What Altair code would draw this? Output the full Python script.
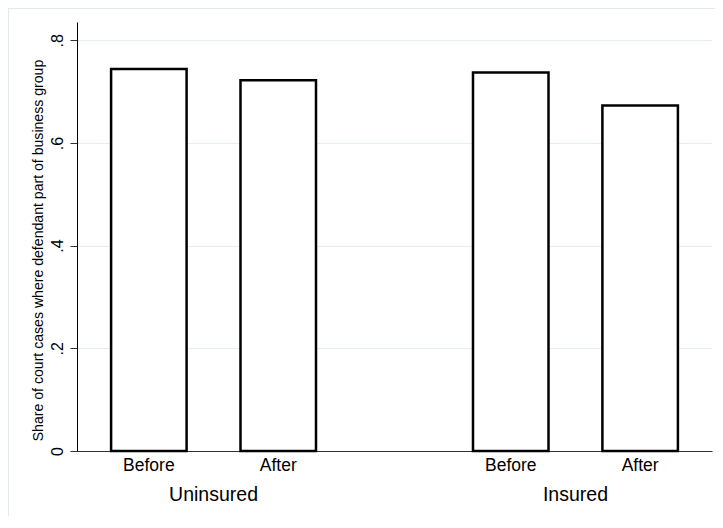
import altair as alt
import pandas as pd

groups = ["Uninsured", "Uninsured", "Insured", "Insured"]
periods = ["Before", "After", "Before", "After"]
shares = [0.744, 0.722, 0.737, 0.673]
group_order = ["Uninsured", "Insured"]
period_order = ["Before", "After"]
y_ticks = [0, 0.2, 0.4, 0.6, 0.8]
y_title = "Share of court cases where defendant part of business group"

df = pd.DataFrame({"group": groups, "period": periods, "share": shares})

FONT = "Liberation Sans"
W, H = 635, 429

x_enc = alt.X(
    "group:N",
    sort=group_order,
    scale=alt.Scale(paddingInner=0.2454, paddingOuter=0),
    axis=alt.Axis(
        title=None, labelAngle=0, ticks=False, tickSize=0, grid=False,
        domain=True, domainColor="#333333", domainWidth=1,
        labelFontSize=19.5, labelFont=FONT, labelColor="black",
        labelBaseline="alphabetic", labelPadding=49,
    ),
)
xo_enc = alt.XOffset(
    "period:N", sort=period_order,
    scale=alt.Scale(paddingInner=0.4165, paddingOuter=0.2635),
)
y_enc = alt.Y(
    "share:Q",
    scale=alt.Scale(domain=[0, 0.8356], nice=False, zero=True),
    axis=alt.Axis(
        values=y_ticks,
        labelExpr="datum.value == 0 ? '0' : replace(format(datum.value, '.1f'), '0.', '.')",
        labelAngle=270, labelAlign="center", labelBaseline="alphabetic",
        labelPadding=7.5, labelFontSize=16, labelFont=FONT, labelColor="black",
        tickSize=7, tickColor="#333333", tickWidth=1,
        domain=True, domainColor="black", domainWidth=1,
        grid=True, gridColor="#e6edf0", gridWidth=1,
        title=y_title, titleAngle=270, titleX=-35, titleY=228,
        titleAlign="center", titleBaseline="alphabetic",
        titleFontSize=14.1, titleFontWeight="normal", titleFont=FONT, titleColor="black",
    ),
)

bars = alt.Chart(df).mark_bar(fill="white", stroke="black", strokeWidth=2.5).encode(
    x=x_enc, xOffset=xo_enc, y=y_enc
)

period_text = alt.Chart(df).mark_text(
    font=FONT, fontSize=17.5, color="black", align="center", baseline="alphabetic"
).encode(
    x=alt.X("group:N", sort=group_order),
    xOffset=alt.XOffset("period:N", sort=period_order),
    y=alt.value(449),
    text="period:N",
)

left_border = alt.Chart(df).mark_rule(color="#e3eaec", strokeWidth=1).encode(
    x=alt.value(-68.5), y=alt.value(-14), y2=alt.value(494)
)
top_border = alt.Chart(df).mark_rule(color="#e3eaec", strokeWidth=1).encode(
    x=alt.value(-69), x2=alt.value(640), y=alt.value(-13.5)
)

chart = alt.layer(left_border, top_border, bars, period_text).properties(
    width=W, height=H,
    autosize=alt.AutoSizeParams(type="none"),
    padding={"left": 69, "top": 14, "right": 3, "bottom": 65},
    background="white",
).configure_view(strokeWidth=0)

chart.save("out.html", embed_options={"renderer": "svg", "actions": False})
